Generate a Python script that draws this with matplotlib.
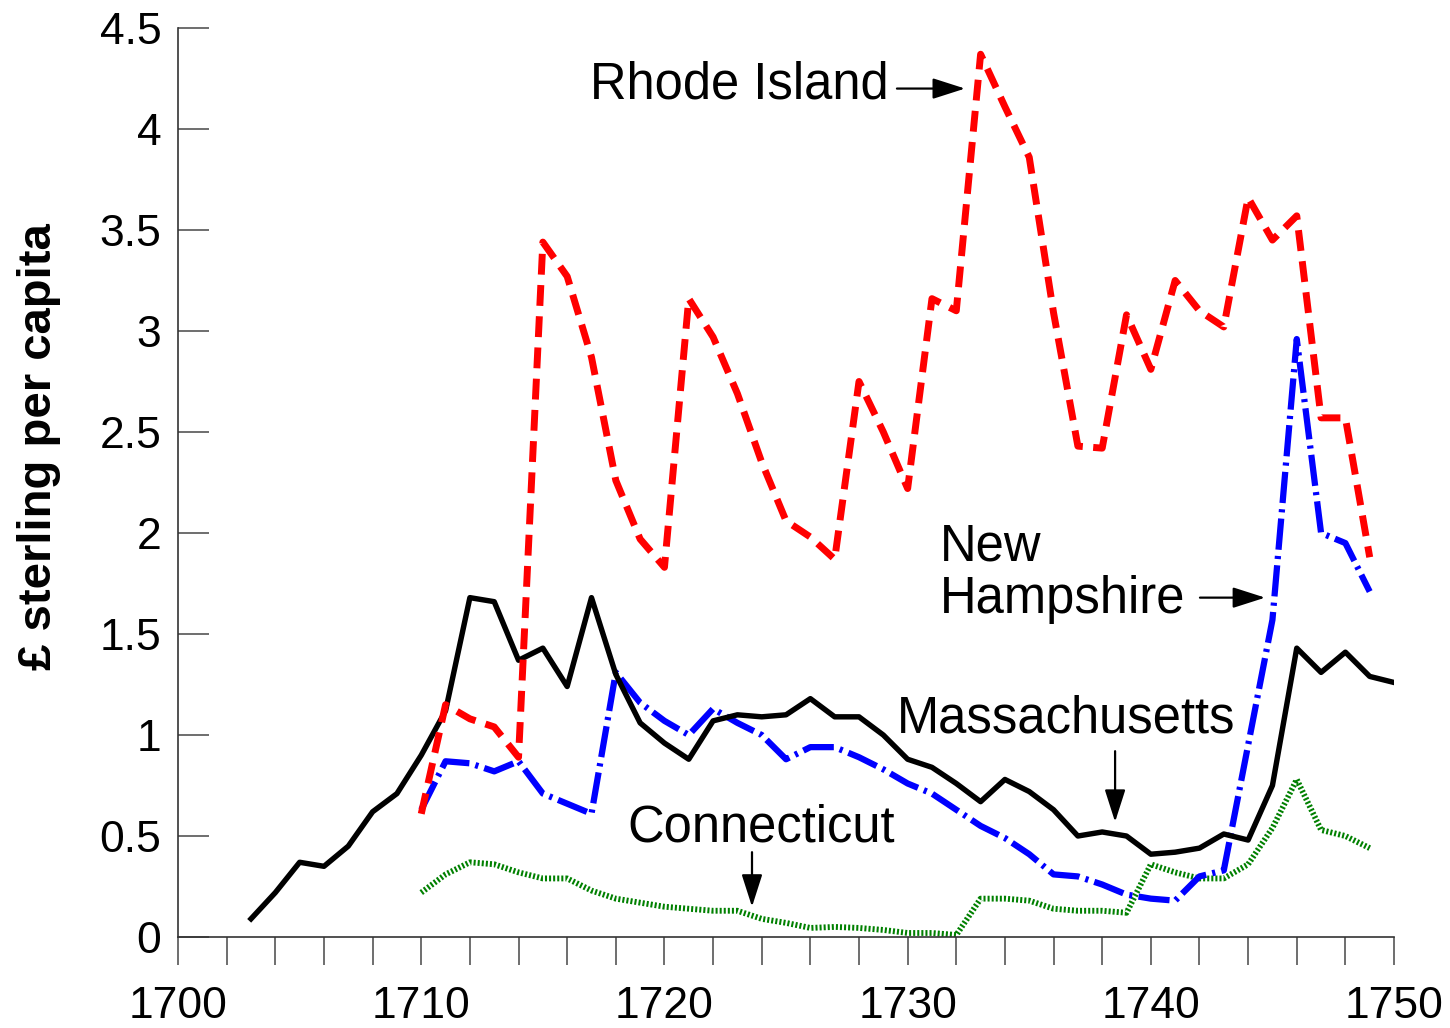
import numpy as np
import matplotlib
matplotlib.use('Agg')
import matplotlib.pyplot as plt

plt.rcParams['font.family'] = ['Liberation Sans', 'DejaVu Sans']

# Values (pounds sterling per capita)
years_ma = list(range(1703, 1751))
massachusetts = [0.09, 0.22, 0.37, 0.35, 0.45, 0.62, 0.71, 0.90, 1.12, 1.68,
                 1.66, 1.37, 1.43, 1.24, 1.68, 1.30, 1.06, 0.96, 0.88, 1.07,
                 1.10, 1.09, 1.10, 1.18, 1.09, 1.09, 1.00, 0.88, 0.84, 0.76,
                 0.67, 0.78, 0.72, 0.63, 0.50, 0.52, 0.50, 0.41, 0.42, 0.44,
                 0.51, 0.48, 0.75, 1.43, 1.31, 1.41, 1.29, 1.26]

years = list(range(1710, 1750))
rhode_island = [0.61, 1.15, 1.08, 1.04, 0.89, 3.44, 3.27, 2.87, 2.26, 1.97,
                1.83, 3.16, 2.97, 2.69, 2.35, 2.06, 1.98, 1.87, 2.75, 2.50,
                2.22, 3.16, 3.10, 4.37, 4.11, 3.86, 3.09, 2.43, 2.42, 3.08,
                2.81, 3.25, 3.10, 3.02, 3.66, 3.45, 3.57, 2.57, 2.57, 1.88]
new_hampshire = [0.63, 0.87, 0.86, 0.82, 0.87, 0.71, 0.66, 0.61, 1.31, 1.16,
                 1.07, 1.00, 1.13, 1.06, 1.00, 0.88, 0.94, 0.94, 0.89, 0.83,
                 0.76, 0.71, 0.63, 0.55, 0.49, 0.41, 0.31, 0.30, 0.26, 0.21,
                 0.19, 0.18, 0.30, 0.33, 0.95, 1.57, 2.96, 2.00, 1.95, 1.71]
connecticut = [0.22, 0.31, 0.37, 0.36, 0.32, 0.29, 0.29, 0.23, 0.19, 0.17,
               0.15, 0.14, 0.13, 0.13, 0.09, 0.07, 0.045, 0.05, 0.045, 0.035,
               0.02, 0.02, 0.01, 0.19, 0.19, 0.18, 0.14, 0.13, 0.13, 0.12,
               0.36, 0.32, 0.29, 0.29, 0.36, 0.54, 0.78, 0.53, 0.50, 0.44]

fig = plt.figure(figsize=(14.5, 10.28), dpi=100)
ax = fig.add_axes([0.1228, 0.0885, 0.8386, 0.8843])

ax.plot(years, connecticut, color='#008000', lw=4.2, linestyle=(0, (0.35, 0.35)))
ax.plot(years, new_hampshire, color='#0000ff', lw=4.5, linestyle=(0, (5, 1, 0.5, 1)))
ax.plot(years_ma, massachusetts, color='black', lw=3.9)
ax.plot(years, rhode_island, color='#ff0000', lw=5, linestyle=(0, (3, 1.5)))

ax.set_xlim(1700, 1750)
ax.set_ylim(0, 4.5)

# axes styling
for side in ['top', 'right']:
    ax.spines[side].set_visible(False)
for side in ['left', 'bottom']:
    ax.spines[side].set_color('#333333')
    ax.spines[side].set_linewidth(1.2)

ax.set_xticks(np.arange(1700, 1751, 10))
ax.set_xticks(np.arange(1700, 1751, 2), minor=True)
ax.set_yticks(np.arange(0, 4.51, 0.5))
ax.set_yticklabels(['0', '0.5', '1', '1.5', '2', '2.5', '3', '3.5', '4', '4.5'])
ax.tick_params(axis='x', which='both', direction='out', length=20, width=1.2,
               color='#555555')
ax.tick_params(axis='x', which='major', labelsize=32, pad=15)
ax.tick_params(axis='y', direction='in', length=22, width=1.2, color='#555555',
               labelsize=32, pad=12)

ax.set_ylabel('£ sterling per capita', fontsize=34, fontweight='bold')
ax.yaxis.set_label_coords(-0.096, 0.54)

# annotations
arrow = dict(arrowstyle='-|>,head_length=1.0,head_width=0.32', color='black',
             lw=1.6, mutation_scale=20, shrinkA=0, shrinkB=0)
ax.text(1716.94, 4.22, 'Rhode Island', fontsize=36.5, va='center', ha='left')
ax.annotate('', xy=(1732.36, 4.20), xytext=(1729.56, 4.20), arrowprops=arrow)

ax.text(1731.33, 1.80, 'New\nHampshire', fontsize=36.5, va='center', ha='left',
        linespacing=1.1)
ax.annotate('', xy=(1744.70, 1.68), xytext=(1742.02, 1.68), arrowprops=arrow)

ax.text(1729.56, 1.08, 'Massachusetts', fontsize=36.5, va='center', ha='left')
ax.annotate('', xy=(1738.53, 0.57), xytext=(1738.53, 0.92), arrowprops=arrow)

ax.text(1718.46, 0.54, 'Connecticut', fontsize=36.5, va='center', ha='left')
ax.annotate('', xy=(1723.60, 0.15), xytext=(1723.60, 0.42), arrowprops=arrow)

plt.savefig('out.png', dpi=100)
